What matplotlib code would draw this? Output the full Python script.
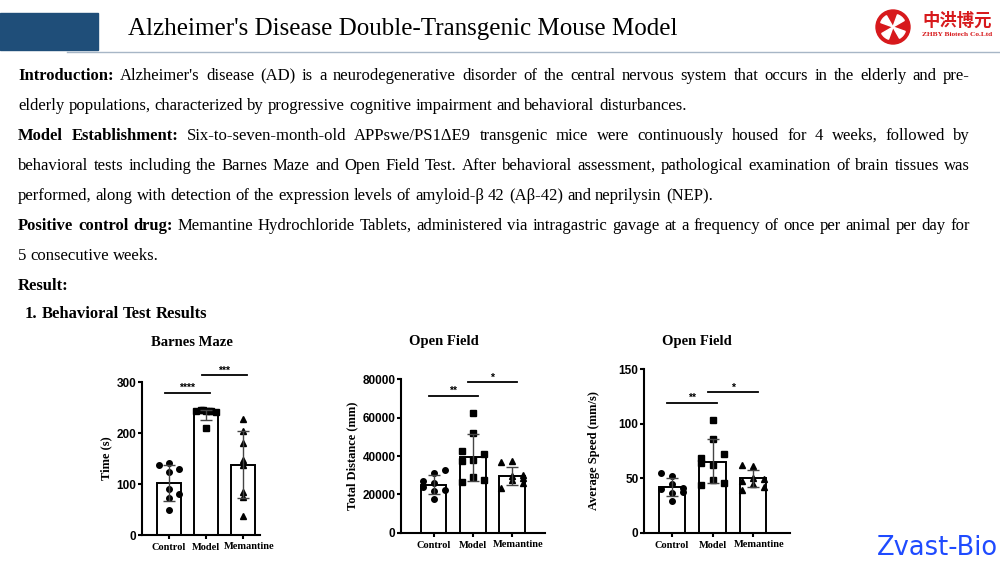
import numpy as np
import matplotlib.pyplot as plt
from matplotlib.patches import Rectangle, Circle, Wedge
from matplotlib.transforms import ScaledTranslation

SERIF = 'Liberation Serif'
SANS = 'Liberation Sans'

groups = ['Control', 'Model', 'Memantine']

# Barnes Maze - time (s)
bm_mean = [102.5, 243, 137]
bm_err_lo = [35, 18, 64]
bm_err_hi = [35, 3, 67]
bm_control = [137, 141.5, 128.5, 124, 91, 79.5, 72, 49]
bm_model = [244, 245, 243, 244, 242, 245, 243, 209]
bm_memantine = [228, 204, 180.5, 147, 137, 84.5, 74, 37]

# Open Field - total distance (mm)
td_mean = [24900, 39300, 29700]
td_err_lo = [4800, 12200, 4800]
td_err_hi = [5100, 12200, 4700]
td_control = [27000, 31300, 32700, 24000, 26000, 22300, 21900, 17500]
td_model = [62300, 51800, 42800, 41000, 37500, 37900, 29200, 26300, 27500]
td_memantine = [36700, 37400, 29500, 27500, 28400, 25800, 23200, 30000]

# Open Field - average speed (mm/s)
sp_mean = [41.6, 65, 49.8]
sp_err_lo = [8.2, 19.5, 7.6]
sp_err_hi = [8.2, 20.5, 7.6]
sp_control = [55, 52, 44.6, 40, 36, 40.7, 37, 29.3]
sp_model = [103.3, 85.6, 71.8, 68.2, 63.6, 62, 48.3, 43.7, 45.8]
sp_memantine = [62, 61.1, 47.4, 49.8, 49.2, 39, 42.2, 44.6]

# significance brackets: (group a, group b, height, label)
bm_sig = [(0, 1, 279, '****'), (1, 2, 313, '***')]
td_sig = [(0, 1, 71300, '**'), (1, 2, 78400, '*')]
sp_sig = [(0, 1, 119, '**'), (1, 2, 128.6, '*')]

# column layout of the dots inside each bar (-1 left, 0 middle, 1 right)
bm_cols = [[-1, 0, 1, 0, 0, 1, 0, 0],
           [-1, -0.5, 0, 0.5, 1, -0.25, 0.25, 0],
           [0, 0, 0, 0, 0, 0, 0, 0]]
td_cols = [[-1, 0, 1, -1, 0, 1, 0, 0],
           [0, 0, -1, 1, -1, 0, 0, -1, 1],
           [-1, 0, 0, 0, 1, 1, -1, 1]]
sp_cols = [[-1, 0, 0, -1, 0, 1, 1, 0],
           [0, 0, 1, -1, -1, 0, 0, -1, 1],
           [-1, 0, -1, 0, 1, -1, 1, 0]]

fig = plt.figure(figsize=(10, 5.62), dpi=100)
bg = fig.add_axes([0, 0, 1, 1])
bg.set_xlim(0, 1000)
bg.set_ylim(562, 0)
bg.axis('off')
renderer = fig.canvas.get_renderer()

# header
bg.plot([67, 1000], [52, 52], color='#a7b6c6', lw=1)
bg.add_patch(Rectangle((0, 13), 98, 37, color='#1f4e79', zorder=3))
bg.text(128, 29, "Alzheimer's Disease Double-Transgenic Mouse Model", family=SERIF,
        fontsize=18, va='center', ha='left')

# logo
bg.add_patch(Circle((893, 27), 17, color='#d7191c'))
for k in range(4):
    a = 90 * k + 20
    bg.add_patch(Wedge((893, 27), 13, a, a + 40, color='white'))
bg.text(957, 21, '中洪博元', family=['Noto Sans CJK SC', 'DejaVu Sans'], weight='bold',
        fontsize=12.5, color='#d7191c', ha='center', va='center')
bg.text(957, 35, 'ZHBY Biotech Co.Ltd', family=SERIF, weight='bold', fontsize=5.3,
        color='#d7191c', ha='center', va='center')

# body text
BODY = 12
space_w = 0.25 * BODY * 100 / 72


def put_line(y, parts, x0=18, x1=970, justify=True):
    arts = []
    for txt, bold in parts:
        for w in txt.split():
            t = bg.text(0, y, w, family=SERIF, fontsize=BODY,
                        weight='bold' if bold else 'normal', va='baseline', ha='left')
            arts.append(t)
    widths = [t.get_window_extent(renderer).width for t in arts]
    gap = (x1 - x0 - sum(widths)) / (len(arts) - 1) if justify and len(arts) > 1 else space_w
    x = x0
    for t, w in zip(arts, widths):
        t.set_x(x)
        x += w + gap


put_line(80, [('Introduction:', True),
              ("Alzheimer's disease (AD) is a neurodegenerative disorder of the central nervous "
               "system that occurs in the elderly and pre-", False)])
put_line(110, [('elderly populations, characterized by progressive cognitive impairment and '
                'behavioral disturbances.', False)], justify=False)
put_line(140, [('Model Establishment:', True),
               ('Six-to-seven-month-old APPswe/PS1ΔE9 transgenic mice were continuously housed '
                'for 4 weeks, followed by', False)])
put_line(170, [('behavioral tests including the Barnes Maze and Open Field Test. After behavioral '
                'assessment, pathological examination of brain tissues was', False)])
put_line(200, [('performed, along with detection of the expression levels of amyloid-β 42 '
                '(Aβ-42) and neprilysin (NEP).', False)], justify=False)
put_line(230, [('Positive control drug:', True),
               ('Memantine Hydrochloride Tablets, administered via intragastric gavage at a '
                'frequency of once per animal per day for', False)])
put_line(260, [('5 consecutive weeks.', False)], justify=False)
put_line(290, [('Result:', True)], justify=False)
put_line(318, [('1. Behavioral Test Results', True)], x0=25, justify=False)

bg.text(937, 548, 'Zvast-Bio', family='DejaVu Sans', fontsize=18.5,
        color='#1f4bff', ha='center', va='center')


def panel(rect, xlim, ylim, yticks, title, ylabel, means, lo, hi, pts, cols, sig, label_x, title_pos):
    ax = fig.add_axes(rect)
    x = np.arange(3)
    ax.bar(x, means, width=0.65, color='white', edgecolor='black', linewidth=1.4, zorder=1)
    markers = ['o', 's', '^']
    for i in range(3):
        xs = x[i] + np.array(cols[i]) * 0.28
        ax.plot(xs, pts[i], ls='none', marker=markers[i], color='black', ms=4, zorder=3,
                clip_on=False)
    ax.errorbar(x, means, yerr=[lo, hi], fmt='none', ecolor='#444444', elinewidth=1,
                capsize=4, capthick=1, zorder=4)
    for a, b, h, lab in sig:
        ax.plot([a - 0.12, b + 0.12], [h, h], color='black', lw=1.3, clip_on=False)
        ax.text((a + b) / 2, h, lab, ha='center', va='bottom', fontsize=7.5, weight='bold',
                family=SANS)
    ax.set_xlim(*xlim)
    ax.set_ylim(*ylim)
    ax.set_yticks(yticks)
    ax.set_xticks(x, groups)
    for s in ['top', 'right']:
        ax.spines[s].set_visible(False)
    for s in ['left', 'bottom']:
        ax.spines[s].set_linewidth(1.5)
    ax.tick_params(axis='y', length=3, width=1.5, pad=1)
    ax.tick_params(axis='x', length=3, width=1.5, pad=3)
    for t in ax.get_yticklabels():
        t.set_fontfamily(SANS)
        t.set_fontweight('bold')
        t.set_fontsize(8.5)
    labs = ax.get_xticklabels()
    for t in labs:
        t.set_fontfamily(SERIF)
        t.set_fontweight('bold')
        t.set_fontsize(7.5)
    labs[2].set_transform(labs[2].get_transform()
                          + ScaledTranslation(6 / 100, 1 / 100, fig.dpi_scale_trans))
    ax.set_ylabel(ylabel, family=SERIF, weight='bold', fontsize=9)
    ax.yaxis.set_label_coords(label_x, 0.5)
    ax.text(title_pos[0], title_pos[1], title, transform=ax.transAxes, family=SERIF,
            weight='bold', fontsize=10.5, ha='center', va='center')
    return ax


ax1 = panel([0.142, 0.048, 0.118, 0.2722], (-0.73, 2.46), (0, 300), [0, 100, 200, 300],
            'Barnes Maze', 'Time (s)', bm_mean, bm_err_lo, bm_err_hi,
            [bm_control, bm_model, bm_memantine], bm_cols, bm_sig, -0.254,
            (0.42, 1 + 40 / 153))

ax2 = panel([0.401, 0.0521, 0.144, 0.273], (-0.83, 2.84), (0, 80000),
            [0, 20000, 40000, 60000, 80000],
            'Open Field', 'Total Distance (mm)', td_mean, td_err_lo, td_err_hi,
            [td_control, td_model, td_memantine], td_cols, td_sig, -0.30,
            (0.30, 1 + 38 / 153.4))

ax3 = panel([0.644, 0.0521, 0.146, 0.2913], (-0.69, 2.91), (0, 150), [0, 50, 100, 150],
            'Open Field', 'Average Speed (mm/s)', sp_mean, sp_err_lo, sp_err_hi,
            [sp_control, sp_model, sp_memantine], sp_cols, sp_sig, -0.30,
            (0.36, 1 + 28 / 163.7))

fig.savefig('out.png', dpi=100)
